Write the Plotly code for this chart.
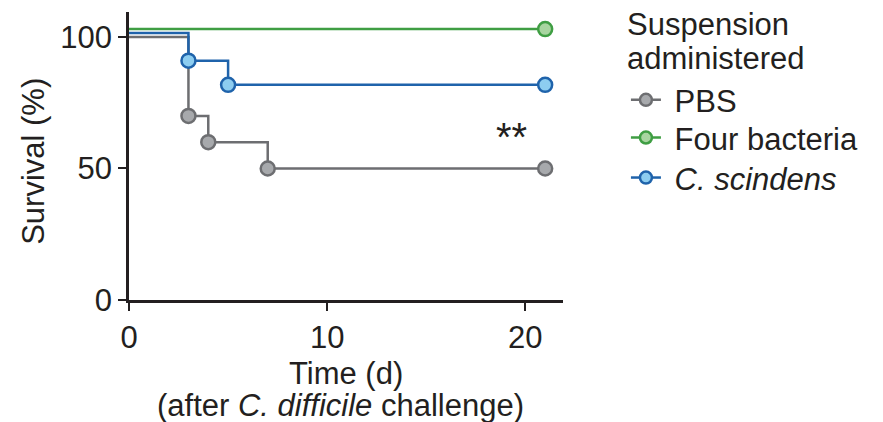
import plotly.graph_objects as go

# Data
pbs_t = [0, 3, 4, 7, 21]
pbs_s = [100, 70, 60, 50, 50]
four_t = [0, 21]
four_s = [103, 103]
cs_t = [0, 3, 5, 21]
cs_s = [101.5, 91, 81.8, 81.8]

series = [
    ("PBS", pbs_t, pbs_s, "#6d6e71", "#a7a9ac"),
    ("Four bacteria", four_t, four_s, "#3f9e43", "#a8d5a0"),
    ("<i>C. scindens</i>", cs_t, cs_s, "#1f63ab", "#8dcdf0"),
]

FONT = "Liberation Sans, Arial, sans-serif"
INK = "#231f20"
FS = 31

fig = go.Figure()
for name, t, s, lc, fc in series:
    sizes = [0] + [14] * (len(t) - 1)
    fig.add_trace(go.Scatter(
        x=t, y=s, name=name, mode="lines+markers", showlegend=False,
        line=dict(color=lc, width=2.5, shape="hv"),
        marker=dict(size=sizes, color=fc, opacity=1, line=dict(color=lc, width=2.5)),
        cliponaxis=False,
    ))
# legend entries, one small legend per entry for exact spacing
legend_ids = ["legend", "legend2", "legend3"]
legend_y = [0.694, 0.563, 0.424]
for (name, t, s, lc, fc), lid in zip(series, legend_ids):
    fig.add_trace(go.Scatter(
        x=[None], y=[None], name="\u00a0" + name, mode="lines+markers",
        line=dict(color=lc, width=2.5), legend=lid,
        marker=dict(size=12, color=fc, opacity=1, line=dict(color=lc, width=2.5)),
    ))

ann_font = dict(size=FS, color=INK, family=FONT)
fig.add_annotation(x=19.3, y=61.8, text="**", showarrow=False,
                   font=dict(size=40, color=INK, family=FONT))
fig.add_annotation(x=-0.219, y=0.483, xref="paper", yref="paper", text="Survival (%)",
                   textangle=-90, showarrow=False, font=ann_font,
                   xanchor="center", yanchor="middle")
fig.add_annotation(x=0.5, y=-0.2535, xref="paper", yref="paper", text="Time (d)",
                   showarrow=False, font=ann_font, xanchor="center", yanchor="middle")
fig.add_annotation(x=0.487, y=-0.3646, xref="paper", yref="paper",
                   text="(after <i>C. difficile</i> challenge)",
                   showarrow=False, font=ann_font, xanchor="center", yanchor="middle")
fig.add_annotation(x=1.143, y=0.955, xref="paper", yref="paper", text="Suspension",
                   showarrow=False, font=ann_font, xanchor="left", yanchor="middle")
fig.add_annotation(x=1.143, y=0.840, xref="paper", yref="paper", text="administered",
                   showarrow=False, font=ann_font, xanchor="left", yanchor="middle")

leg_common = dict(x=1.145, xanchor="left", yanchor="middle", font=dict(size=FS),
                  itemwidth=30, bgcolor="rgba(0,0,0,0)")
fig.update_layout(
    width=883, height=422,
    margin=dict(l=129, r=320, t=12, b=122, autoexpand=False),
    paper_bgcolor="white", plot_bgcolor="white",
    font=dict(family=FONT, size=FS, color=INK),
    showlegend=True,
    legend=dict(y=legend_y[0], **leg_common),
    legend2=dict(y=legend_y[1], **leg_common),
    legend3=dict(y=legend_y[2], **leg_common),
    xaxis=dict(
        range=[0, 21.9], tickvals=[0, 10, 20], ticks="outside", ticklen=8, tickwidth=2,
        tickcolor=INK, showline=True, linecolor=INK, linewidth=2.5, showgrid=False,
        zeroline=False, tickfont=dict(size=FS), automargin=False,
    ),
    yaxis=dict(
        range=[0, 109.5], tickvals=[0, 50, 100], ticks="outside", ticklen=8, tickwidth=2,
        tickcolor=INK, showline=True, linecolor=INK, linewidth=2.5, showgrid=False,
        zeroline=False, tickfont=dict(size=FS), automargin=False,
    ),
)

fig.write_html("out.html", config={"displayModeBar": False},
               post_script="document.body.style.margin='0';")
